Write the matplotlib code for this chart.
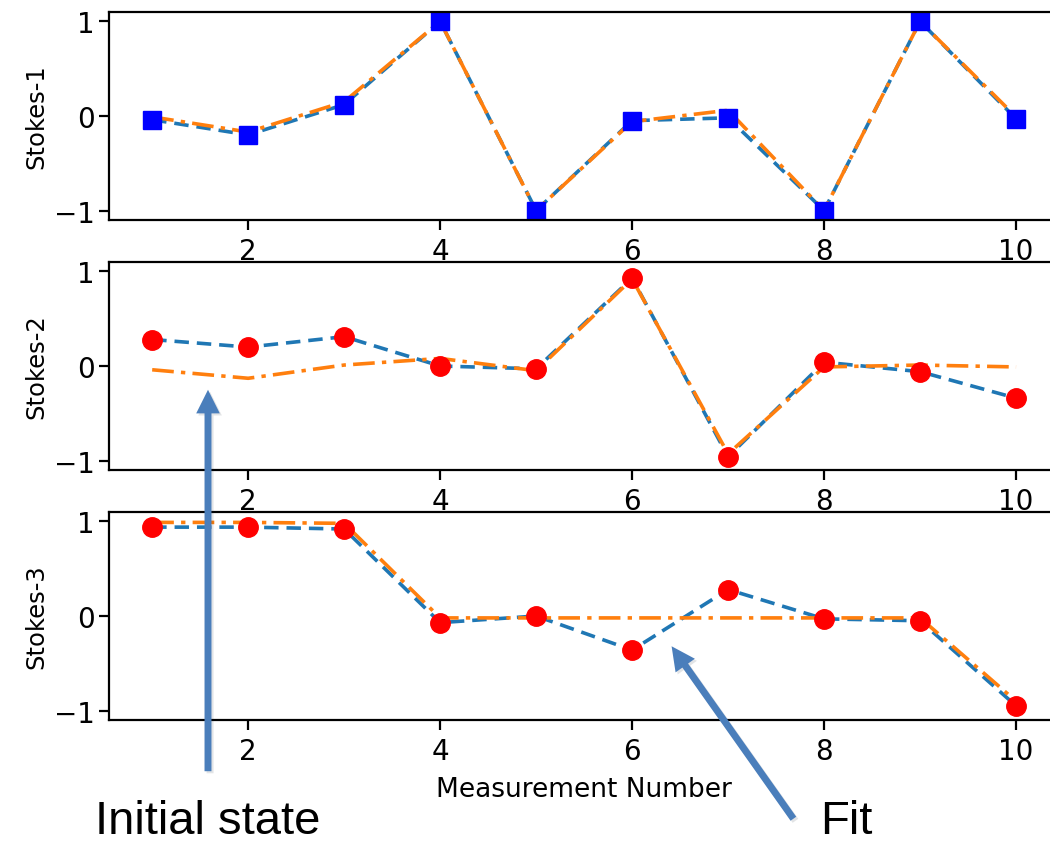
import numpy as np
import matplotlib
matplotlib.use("Agg")
import matplotlib.pyplot as plt
from matplotlib.patches import FancyArrowPatch
import matplotlib.patheffects as pe

# measurement numbers
n = [1, 2, 3, 4, 5, 6, 7, 8, 9, 10]

# measured Stokes parameters
s1_meas = [-0.04, -0.20, 0.12, 1.00, -1.00, -0.05, -0.02, -1.00, 1.00, -0.03]
s2_meas = [0.28, 0.20, 0.31, 0.00, -0.03, 0.93, -0.96, 0.04, -0.06, -0.34]
s3_meas = [0.94, 0.94, 0.92, -0.07, 0.00, -0.36, 0.28, -0.03, -0.05, -0.95]

# fitted Stokes parameters
s1_fit = [-0.01, -0.17, 0.15, 1.00, -1.00, -0.06, 0.06, -1.00, 1.00, -0.01]
s2_fit = [-0.04, -0.13, 0.01, 0.08, -0.05, 0.92, -0.93, -0.01, 0.01, -0.01]
s3_fit = [0.99, 0.99, 0.98, -0.02, -0.02, -0.02, -0.02, -0.02, -0.02, -0.90]

labels = ["Stokes-1", "Stokes-2", "Stokes-3"]
meas = [s1_meas, s2_meas, s3_meas]
fits = [s1_fit, s2_fit, s3_fit]
markers = ["bs", "ro", "ro"]

fig = plt.figure(figsize=(10.5, 8.45), dpi=100)
bottoms = [0.7385, 0.4426, 0.1467]

for i in range(3):
    ax = fig.add_axes([0.1038, bottoms[i], 0.905, 0.2462])
    ax.plot(n, meas[i], "--", color="#1f77b4", lw=2.6, dashes=(4, 2.2))
    ax.plot(n, fits[i], "-.", color="#ff7f0e", lw=2.6, dashes=(6, 2, 1.2, 2))
    ax.plot(n, meas[i], markers[i], ms=13 if i == 0 else 14, ls="none")
    ax.set_xlim(0.55, 10.45)
    ax.set_ylim(-1.1, 1.1)
    ax.set_xticks([2, 4, 6, 8, 10])
    ax.set_yticks([-1, 0, 1])
    ax.set_ylabel(labels[i], fontsize=17.5, labelpad=4)
    ax.tick_params(labelsize=20, length=7, width=1.6)
    ax.tick_params(axis="x", pad=5)
    for sp in ax.spines.values():
        sp.set_linewidth(1.6)
    if i == 2:
        ax.set_xlabel("Measurement Number", fontsize=19, labelpad=8)

# annotation arrows (figure pixels)
acol = "#4a7ebb"
for tail, head in [((208, 70), (208, 457)), ((795, 23), (670, 200))]:
    arr = FancyArrowPatch(tail, head, transform=None,
                          arrowstyle="simple,head_width=1.7,head_length=1.7,tail_width=0.5",
                          mutation_scale=10, color=acol, lw=0)
    arr.set_path_effects([pe.SimplePatchShadow(offset=(1.5, -1.5), alpha=0.12), pe.Normal()])
    fig.add_artist(arr)

fig.text(95 / 1050, 1 / 845, "Initial state", fontsize=34,
         family="Liberation Sans", va="bottom")
fig.text(820 / 1050, 1 / 845, "Fit", fontsize=34,
         family="Liberation Sans", va="bottom")

fig.savefig("out.png", dpi=100)
